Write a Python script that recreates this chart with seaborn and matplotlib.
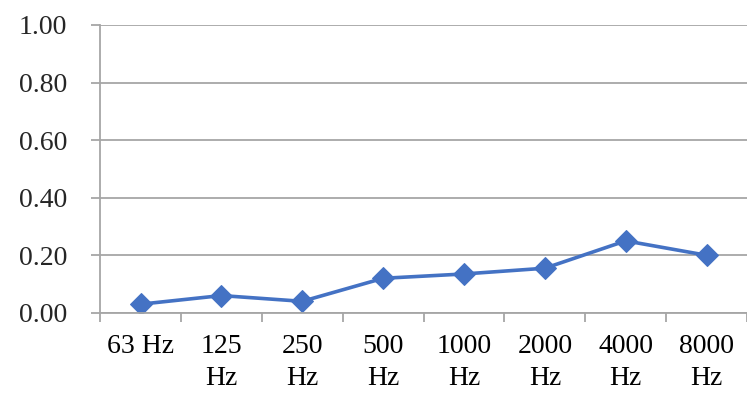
import matplotlib
matplotlib.use("Agg")
import matplotlib.pyplot as plt
from matplotlib.ticker import FixedLocator, NullFormatter
import seaborn as sns
import pandas as pd

# Octave bands and measured coefficients
bands = ["63 Hz", "125\nHz", "250\nHz", "500\nHz", "1000\nHz", "2000\nHz", "4000\nHz", "8000\nHz"]
values = [0.03, 0.06, 0.04, 0.12, 0.135, 0.155, 0.25, 0.20]
y_ticks = [0.0, 0.2, 0.4, 0.6, 0.8, 1.0]

df = pd.DataFrame({"band": bands, "value": values})

sns.set_theme(style="white")
plt.rcParams["font.family"] = ["Liberation Serif", "DejaVu Serif"]

fig = plt.figure(figsize=(7.47, 3.96), dpi=100)
ax = fig.add_axes([0.134, 0.21, 0.866, 0.727])

grid_c = "#A6A6A6"
line_c = "#4472C4"

sns.lineplot(data=df, x="band", y="value", sort=False, ax=ax,
             color=line_c, linewidth=2.6, marker="D", markersize=11,
             markeredgecolor=line_c, markerfacecolor=line_c)

ax.set_xlim(-0.5, len(bands) - 0.5)
ax.set_ylim(0, 1.0)
ax.set_yticks(y_ticks)
ax.set_yticklabels([f"{v:.2f}" for v in y_ticks])
ax.yaxis.grid(True, color=grid_c, linewidth=1.3)
ax.set_axisbelow(True)

# category boundaries carry the tick marks, labels sit between them
ax.set_xticks(range(len(bands)))
ax.set_xticklabels(bands)
ax.tick_params(axis="x", which="major", length=0, pad=15, labelsize=20, colors="#000000")
ax.xaxis.set_minor_locator(FixedLocator([i - 0.5 for i in range(len(bands) + 1)]))
ax.xaxis.set_minor_formatter(NullFormatter())
ax.tick_params(axis="x", which="minor", length=6.5, width=1.3, color=grid_c, direction="out", bottom=True)
ax.tick_params(axis="y", length=6.5, width=1.3, color=grid_c, direction="out", left=True,
               labelsize=20, pad=17)
for lbl in ax.get_xticklabels():
    lbl.set_linespacing(1.4)

for side in ["top", "right"]:
    ax.spines[side].set_visible(False)
for side in ["left", "bottom"]:
    ax.spines[side].set_color(grid_c)
    ax.spines[side].set_linewidth(1.3)

ax.set_xlabel("")
ax.set_ylabel("")

fig.savefig("out.png", dpi=100)
